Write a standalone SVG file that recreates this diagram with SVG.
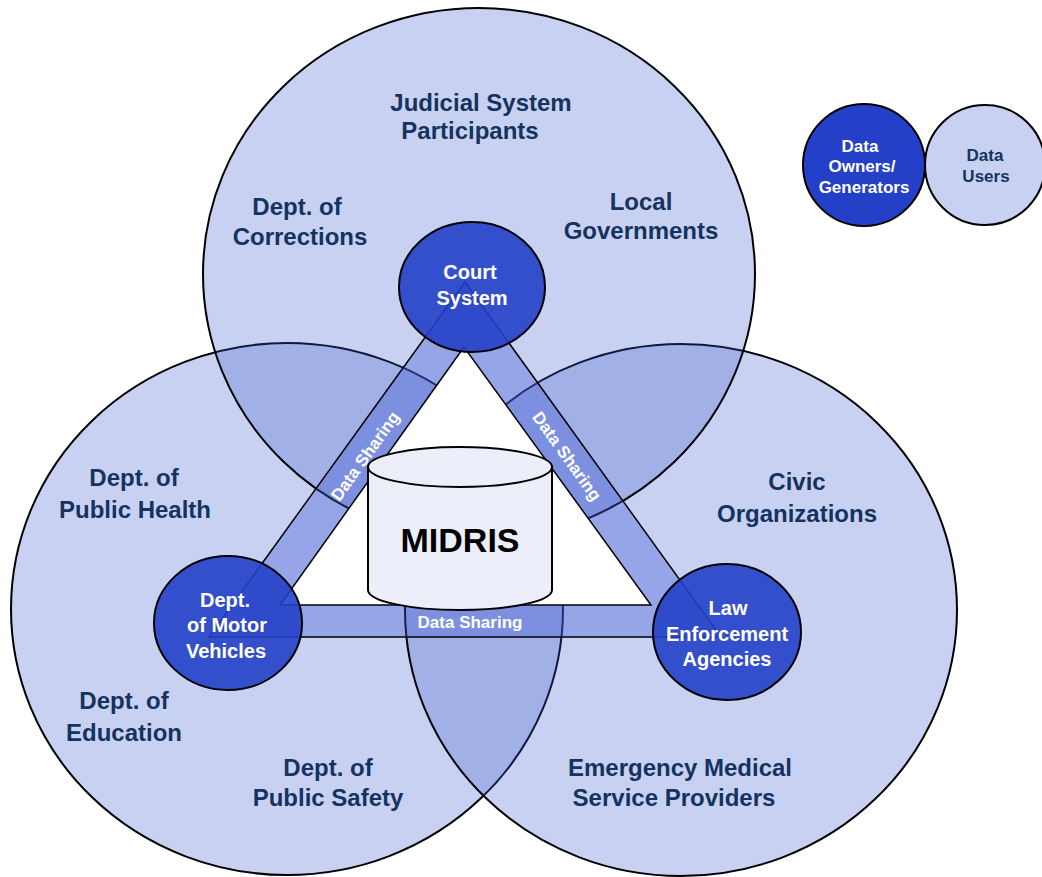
<svg xmlns="http://www.w3.org/2000/svg" width="1042" height="877" viewBox="0 0 1042 877">
  <style>
    .big { fill: rgb(60,90,210); fill-opacity: 0.28; stroke: #000; stroke-width: 2; }
    .owner { fill: rgb(36,64,200); fill-opacity: 0.9; stroke: #000; stroke-width: 2; }
    .band { fill: rgb(60,90,210); fill-opacity: 0.36; stroke: #000; stroke-width: 1.5; fill-rule: evenodd; }
    .hole { fill: #fff; }
    .db { fill: #eceffa; stroke: #000; stroke-width: 2; }
    text { font-family: "Liberation Sans", Arial, sans-serif; font-weight: bold; text-anchor: middle; }
    .grp { font-size: 24px; fill: #14335f; }
    .own { font-size: 20px; fill: #fff; }
    .share { font-size: 17px; fill: #fff; }
    .leg { font-size: 17px; }
  </style>

  <!-- user groups: three overlapping domains -->
  <g id="domain-left">
    <ellipse class="big" cx="287" cy="609" rx="276" ry="266"/>
  </g>
  <g id="domain-right">
    <ellipse class="big" cx="681" cy="610" rx="276" ry="266"/>
  </g>
  <g id="domain-top">
    <ellipse class="big" cx="479" cy="274" rx="276" ry="266"/>
  </g>

  <!-- data-sharing ring around the central repository -->
  <g id="connectors">
    <path class="hole" d="M464,347 L280,605 L651,605 Z"/>
    <path class="band" d="M465,282 L209,637 L721,637 Z M464,347 L280,605 L651,605 Z"/>
    <text class="share" transform="translate(365,456) rotate(-54.5)" y="6">Data Sharing</text>
    <text class="share" transform="translate(567,456) rotate(54.3)" y="6">Data Sharing</text>
    <text class="share" x="470" y="628">Data Sharing</text>
  </g>

  <!-- central repository -->
  <g id="midris">
    <path class="db" d="M368,467 L368,590 A92,20 0 0 0 552,590 L552,467 Z"/>
    <ellipse class="db" cx="460" cy="467" rx="92" ry="20"/>
    <text x="460" y="552" style="font-size:34px; fill:#000;">MIDRIS</text>
  </g>

  <!-- data owners -->
  <g id="court-system">
    <ellipse class="owner" cx="472" cy="287" rx="73" ry="65"/>
    <text class="own" x="470" y="279">Court</text>
    <text class="own" x="472" y="305">System</text>
  </g>
  <g id="motor-vehicles">
    <ellipse class="owner" cx="228" cy="623" rx="74" ry="67"/>
    <text class="own" x="225" y="607">Dept.</text>
    <text class="own" x="227" y="632">of Motor</text>
    <text class="own" x="226" y="658">Vehicles</text>
  </g>
  <g id="law-enforcement">
    <ellipse class="owner" cx="727" cy="632" rx="74" ry="68"/>
    <text class="own" x="728" y="615">Law</text>
    <text class="own" x="727" y="641">Enforcement</text>
    <text class="own" x="727" y="666">Agencies</text>
  </g>

  <!-- data users -->
  <g id="judicial">
    <text class="grp" x="481" y="111">Judicial System</text>
    <text class="grp" x="470" y="139">Participants</text>
  </g>
  <g id="corrections">
    <text class="grp" x="297" y="215">Dept. of</text>
    <text class="grp" x="300" y="245">Corrections</text>
  </g>
  <g id="local-gov">
    <text class="grp" x="641" y="210">Local</text>
    <text class="grp" x="641" y="239">Governments</text>
  </g>
  <g id="public-health">
    <text class="grp" x="134" y="486">Dept. of</text>
    <text class="grp" x="135" y="518">Public Health</text>
  </g>
  <g id="civic">
    <text class="grp" x="797" y="490">Civic</text>
    <text class="grp" x="797" y="522">Organizations</text>
  </g>
  <g id="education">
    <text class="grp" x="124" y="709">Dept. of</text>
    <text class="grp" x="124" y="741">Education</text>
  </g>
  <g id="public-safety">
    <text class="grp" x="328" y="776">Dept. of</text>
    <text class="grp" x="328" y="806">Public Safety</text>
  </g>
  <g id="ems">
    <text class="grp" x="680" y="776">Emergency Medical</text>
    <text class="grp" x="674" y="806">Service Providers</text>
  </g>

  <!-- legend -->
  <g id="legend-owners">
    <circle class="owner" cx="864" cy="165" r="61" style="fill-opacity:1"/>
    <text class="leg" x="860" y="152" fill="#fff">Data</text>
    <text class="leg" x="862" y="172" fill="#fff">Owners/</text>
    <text class="leg" x="864" y="193" fill="#fff">Generators</text>
  </g>
  <g id="legend-users">
    <circle cx="985" cy="165" r="60" style="fill:rgb(200,209,242); stroke:#000; stroke-width:2"/>
    <text class="leg" x="985" y="161" fill="#14335f">Data</text>
    <text class="leg" x="986" y="182" fill="#14335f">Users</text>
  </g>
</svg>
